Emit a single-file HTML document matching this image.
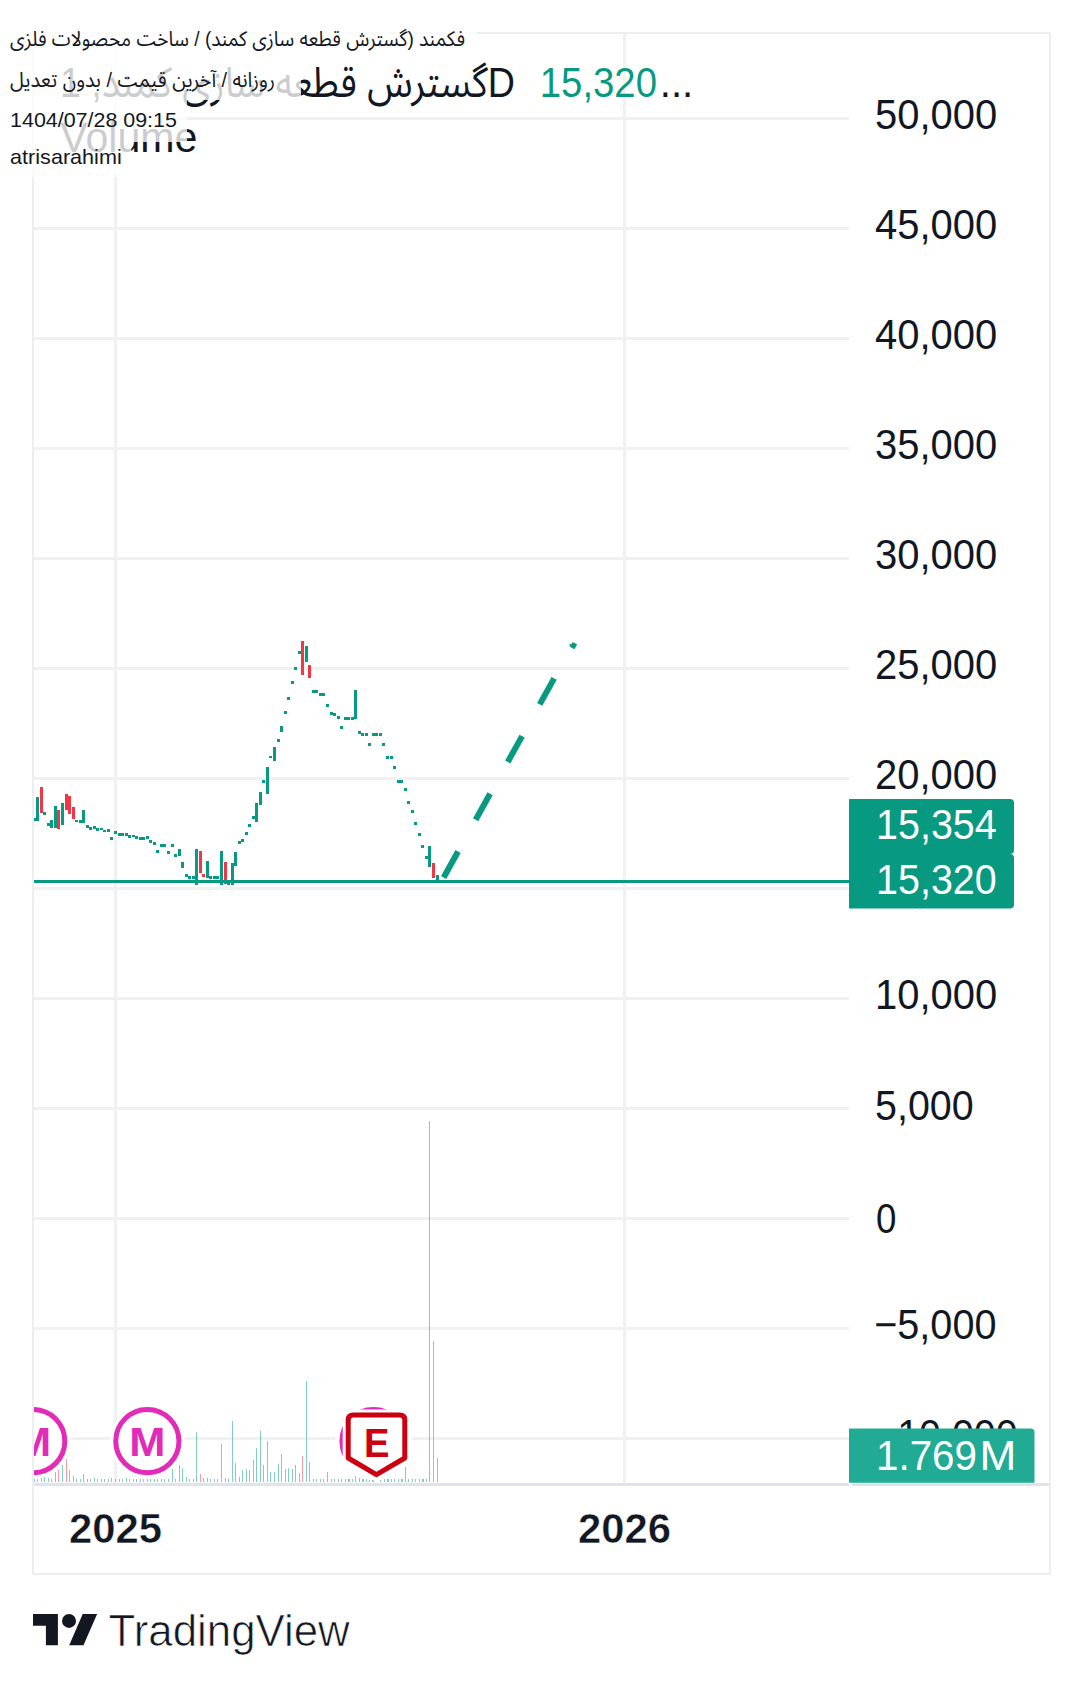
<!DOCTYPE html>
<html><head><meta charset="utf-8"><title>TradingView chart</title>
<style>
html,body{margin:0;padding:0;background:#fff;}
body{width:1083px;height:1688px;position:relative;overflow:hidden;}
.chart{position:absolute;left:0;top:0;}
</style></head><body>
<svg class="chart" width="1083" height="1688" viewBox="0 0 1083 1688"><defs><clipPath id="pane"><rect x="34" y="34" width="815" height="1449"/></clipPath></defs><g fill="#f0f2f2" shape-rendering="crispEdges"><rect x="34" y="117" width="815" height="3"/><rect x="34" y="227" width="815" height="3"/><rect x="34" y="337" width="815" height="3"/><rect x="34" y="447" width="815" height="3"/><rect x="34" y="557" width="815" height="3"/><rect x="34" y="667" width="815" height="3"/><rect x="34" y="777" width="815" height="3"/><rect x="34" y="887" width="815" height="3"/><rect x="34" y="997" width="815" height="3"/><rect x="34" y="1107" width="815" height="3"/><rect x="34" y="1217" width="815" height="3"/><rect x="34" y="1327" width="815" height="3"/><rect x="34" y="1437" width="815" height="3"/><rect x="114.0" y="34" width="3" height="1449"/><rect x="623.0" y="34" width="3" height="1449"/></g><g shape-rendering="crispEdges"><rect x="33.8" y="1479.1" width="1.2" height="2.6" fill="rgba(8,153,129,0.5)"/><rect x="36.8" y="1479.1" width="1.2" height="2.6" fill="rgba(8,153,129,0.5)"/><rect x="40.8" y="1478.0" width="1.2" height="3.7" fill="rgba(242,54,69,0.5)"/><rect x="43.9" y="1477.1" width="1.2" height="4.6" fill="rgba(8,153,129,0.5)"/><rect x="47.9" y="1478.0" width="1.2" height="3.7" fill="rgba(8,153,129,0.5)"/><rect x="50.8" y="1479.0" width="1.2" height="2.7" fill="rgba(8,153,129,0.5)"/><rect x="54.9" y="1471.7" width="1.2" height="10.0" fill="rgba(8,153,129,0.5)"/><rect x="57.8" y="1469.5" width="1.2" height="12.2" fill="rgba(242,54,69,0.5)"/><rect x="61.9" y="1465.1" width="1.2" height="16.6" fill="rgba(8,153,129,0.5)"/><rect x="65.8" y="1458.8" width="1.2" height="22.9" fill="rgba(242,54,69,0.5)"/><rect x="68.9" y="1470.3" width="1.2" height="11.4" fill="rgba(242,54,69,0.5)"/><rect x="72.8" y="1476.2" width="1.2" height="5.5" fill="rgba(242,54,69,0.5)"/><rect x="75.8" y="1479.0" width="1.2" height="2.7" fill="rgba(8,153,129,0.5)"/><rect x="79.8" y="1479.0" width="1.2" height="2.7" fill="rgba(8,153,129,0.5)"/><rect x="82.9" y="1474.2" width="1.2" height="7.5" fill="rgba(8,153,129,0.5)"/><rect x="86.9" y="1479.0" width="1.2" height="2.7" fill="rgba(8,153,129,0.5)"/><rect x="89.8" y="1479.0" width="1.2" height="2.7" fill="rgba(8,153,129,0.5)"/><rect x="93.8" y="1478.0" width="1.2" height="3.7" fill="rgba(8,153,129,0.5)"/><rect x="96.8" y="1479.0" width="1.2" height="2.7" fill="rgba(8,153,129,0.5)"/><rect x="100.8" y="1479.0" width="1.2" height="2.7" fill="rgba(8,153,129,0.5)"/><rect x="103.8" y="1479.0" width="1.2" height="2.7" fill="rgba(8,153,129,0.5)"/><rect x="107.7" y="1479.0" width="1.2" height="2.7" fill="rgba(8,153,129,0.5)"/><rect x="110.9" y="1478.0" width="1.2" height="3.7" fill="rgba(8,153,129,0.5)"/><rect x="114.9" y="1479.0" width="1.2" height="2.7" fill="rgba(8,153,129,0.5)"/><rect x="118.8" y="1479.0" width="1.2" height="2.7" fill="rgba(8,153,129,0.5)"/><rect x="121.9" y="1479.0" width="1.2" height="2.7" fill="rgba(8,153,129,0.5)"/><rect x="125.9" y="1478.0" width="1.2" height="3.7" fill="rgba(8,153,129,0.5)"/><rect x="128.8" y="1479.0" width="1.2" height="2.7" fill="rgba(8,153,129,0.5)"/><rect x="132.9" y="1479.0" width="1.2" height="2.7" fill="rgba(8,153,129,0.5)"/><rect x="135.9" y="1479.0" width="1.2" height="2.7" fill="rgba(8,153,129,0.5)"/><rect x="139.8" y="1479.0" width="1.2" height="2.7" fill="rgba(8,153,129,0.5)"/><rect x="142.9" y="1479.0" width="1.2" height="2.7" fill="rgba(8,153,129,0.5)"/><rect x="146.8" y="1479.0" width="1.2" height="2.7" fill="rgba(8,153,129,0.5)"/><rect x="149.9" y="1479.0" width="1.2" height="2.7" fill="rgba(8,153,129,0.5)"/><rect x="153.9" y="1479.0" width="1.2" height="2.7" fill="rgba(8,153,129,0.5)"/><rect x="156.9" y="1479.0" width="1.2" height="2.7" fill="rgba(8,153,129,0.5)"/><rect x="160.9" y="1479.0" width="1.2" height="2.7" fill="rgba(8,153,129,0.5)"/><rect x="163.9" y="1479.0" width="1.2" height="2.7" fill="rgba(8,153,129,0.5)"/><rect x="167.9" y="1479.0" width="1.2" height="2.7" fill="rgba(8,153,129,0.5)"/><rect x="171.8" y="1469.4" width="1.2" height="12.3" fill="rgba(8,153,129,0.5)"/><rect x="174.9" y="1479.0" width="1.2" height="2.7" fill="rgba(8,153,129,0.5)"/><rect x="178.8" y="1465.1" width="1.2" height="16.6" fill="rgba(8,153,129,0.5)"/><rect x="181.8" y="1468.0" width="1.2" height="13.7" fill="rgba(8,153,129,0.5)"/><rect x="185.9" y="1477.0" width="1.2" height="4.7" fill="rgba(8,153,129,0.5)"/><rect x="188.9" y="1479.0" width="1.2" height="2.7" fill="rgba(8,153,129,0.5)"/><rect x="192.8" y="1479.0" width="1.2" height="2.7" fill="rgba(8,153,129,0.5)"/><rect x="195.9" y="1432.1" width="1.2" height="49.6" fill="rgba(8,153,129,0.5)"/><rect x="199.9" y="1474.0" width="1.2" height="7.7" fill="rgba(242,54,69,0.5)"/><rect x="202.9" y="1477.9" width="1.2" height="3.8" fill="rgba(242,54,69,0.5)"/><rect x="206.9" y="1478.0" width="1.2" height="3.7" fill="rgba(8,153,129,0.5)"/><rect x="209.8" y="1479.0" width="1.2" height="2.7" fill="rgba(8,153,129,0.5)"/><rect x="213.8" y="1479.0" width="1.2" height="2.7" fill="rgba(8,153,129,0.5)"/><rect x="216.9" y="1479.0" width="1.2" height="2.7" fill="rgba(8,153,129,0.5)"/><rect x="220.9" y="1444.2" width="1.2" height="37.5" fill="rgba(8,153,129,0.5)"/><rect x="224.8" y="1478.0" width="1.2" height="3.7" fill="rgba(242,54,69,0.5)"/><rect x="227.8" y="1479.0" width="1.2" height="2.7" fill="rgba(8,153,129,0.5)"/><rect x="231.8" y="1421.2" width="1.2" height="60.5" fill="rgba(8,153,129,0.5)"/><rect x="234.8" y="1463.1" width="1.2" height="18.6" fill="rgba(8,153,129,0.5)"/><rect x="238.9" y="1477.0" width="1.2" height="4.7" fill="rgba(8,153,129,0.5)"/><rect x="241.8" y="1470.0" width="1.2" height="11.7" fill="rgba(8,153,129,0.5)"/><rect x="245.9" y="1469.0" width="1.2" height="12.7" fill="rgba(8,153,129,0.5)"/><rect x="248.8" y="1470.0" width="1.2" height="11.7" fill="rgba(8,153,129,0.5)"/><rect x="252.9" y="1460.2" width="1.2" height="21.5" fill="rgba(8,153,129,0.5)"/><rect x="255.8" y="1448.0" width="1.2" height="33.7" fill="rgba(8,153,129,0.5)"/><rect x="259.9" y="1431.2" width="1.2" height="50.5" fill="rgba(8,153,129,0.5)"/><rect x="262.9" y="1465.3" width="1.2" height="16.4" fill="rgba(8,153,129,0.5)"/><rect x="267.0" y="1441.3" width="1.2" height="40.4" fill="rgba(8,153,129,0.5)"/><rect x="269.9" y="1472.3" width="1.2" height="9.4" fill="rgba(8,153,129,0.5)"/><rect x="273.8" y="1472.3" width="1.2" height="9.4" fill="rgba(8,153,129,0.5)"/><rect x="277.9" y="1464.2" width="1.2" height="17.5" fill="rgba(8,153,129,0.5)"/><rect x="280.8" y="1454.2" width="1.2" height="27.5" fill="rgba(8,153,129,0.5)"/><rect x="284.8" y="1469.1" width="1.2" height="12.6" fill="rgba(8,153,129,0.5)"/><rect x="287.9" y="1468.2" width="1.2" height="13.5" fill="rgba(8,153,129,0.5)"/><rect x="291.8" y="1469.1" width="1.2" height="12.6" fill="rgba(8,153,129,0.5)"/><rect x="294.9" y="1465.3" width="1.2" height="16.4" fill="rgba(8,153,129,0.5)"/><rect x="298.9" y="1473.0" width="1.2" height="8.7" fill="rgba(8,153,129,0.5)"/><rect x="301.9" y="1456.0" width="1.2" height="25.7" fill="rgba(242,54,69,0.5)"/><rect x="305.9" y="1381.1" width="1.2" height="100.6" fill="rgba(8,153,129,0.5)"/><rect x="308.8" y="1462.2" width="1.2" height="19.5" fill="rgba(242,54,69,0.5)"/><rect x="312.9" y="1479.2" width="1.2" height="2.5" fill="rgba(8,153,129,0.5)"/><rect x="315.8" y="1479.0" width="1.2" height="2.7" fill="rgba(8,153,129,0.5)"/><rect x="319.8" y="1479.0" width="1.2" height="2.7" fill="rgba(8,153,129,0.5)"/><rect x="322.9" y="1479.0" width="1.2" height="2.7" fill="rgba(8,153,129,0.5)"/><rect x="326.9" y="1472.3" width="1.2" height="9.4" fill="rgba(8,153,129,0.5)"/><rect x="330.8" y="1479.0" width="1.2" height="2.7" fill="rgba(8,153,129,0.5)"/><rect x="333.8" y="1479.0" width="1.2" height="2.7" fill="rgba(8,153,129,0.5)"/><rect x="337.7" y="1479.0" width="1.2" height="2.7" fill="rgba(8,153,129,0.5)"/><rect x="341.1" y="1479.0" width="1.2" height="2.7" fill="rgba(8,153,129,0.5)"/><rect x="344.8" y="1479.0" width="1.2" height="2.7" fill="rgba(8,153,129,0.5)"/><rect x="348.3" y="1479.0" width="1.2" height="2.7" fill="rgba(8,153,129,0.5)"/><rect x="351.9" y="1479.0" width="1.2" height="2.7" fill="rgba(8,153,129,0.5)"/><rect x="354.9" y="1476.2" width="1.2" height="5.5" fill="rgba(8,153,129,0.5)"/><rect x="358.8" y="1478.0" width="1.2" height="3.7" fill="rgba(8,153,129,0.5)"/><rect x="362.3" y="1479.0" width="1.2" height="2.7" fill="rgba(8,153,129,0.5)"/><rect x="366.0" y="1479.0" width="1.2" height="2.7" fill="rgba(8,153,129,0.5)"/><rect x="368.9" y="1479.5" width="1.2" height="2.2" fill="rgba(8,153,129,0.5)"/><rect x="372.4" y="1479.0" width="1.2" height="2.7" fill="rgba(8,153,129,0.5)"/><rect x="375.9" y="1479.0" width="1.2" height="2.7" fill="rgba(8,153,129,0.5)"/><rect x="379.8" y="1479.0" width="1.2" height="2.7" fill="rgba(8,153,129,0.5)"/><rect x="383.8" y="1479.0" width="1.2" height="2.7" fill="rgba(8,153,129,0.5)"/><rect x="387.3" y="1479.0" width="1.2" height="2.7" fill="rgba(8,153,129,0.5)"/><rect x="390.8" y="1479.0" width="1.2" height="2.7" fill="rgba(8,153,129,0.5)"/><rect x="394.2" y="1479.0" width="1.2" height="2.7" fill="rgba(8,153,129,0.5)"/><rect x="397.9" y="1479.0" width="1.2" height="2.7" fill="rgba(8,153,129,0.5)"/><rect x="401.4" y="1479.0" width="1.2" height="2.7" fill="rgba(8,153,129,0.5)"/><rect x="405.0" y="1466.7" width="1.2" height="15.0" fill="rgba(8,153,129,0.5)"/><rect x="408.2" y="1479.0" width="1.2" height="2.7" fill="rgba(8,153,129,0.5)"/><rect x="411.7" y="1479.0" width="1.2" height="2.7" fill="rgba(8,153,129,0.5)"/><rect x="415.2" y="1479.0" width="1.2" height="2.7" fill="rgba(8,153,129,0.5)"/><rect x="418.6" y="1479.0" width="1.2" height="2.7" fill="rgba(8,153,129,0.5)"/><rect x="422.3" y="1479.0" width="1.2" height="2.7" fill="rgba(8,153,129,0.5)"/><rect x="426.0" y="1479.0" width="1.2" height="2.7" fill="rgba(8,153,129,0.5)"/><rect x="429.0" y="1120.8" width="1.2" height="360.9" fill="rgba(8,153,129,0.5)"/><rect x="432.6" y="1341.0" width="1.2" height="140.7" fill="rgba(242,54,69,0.5)"/><rect x="436.9" y="1457.9" width="1.2" height="23.8" fill="rgba(8,153,129,0.5)"/></g><g shape-rendering="crispEdges"><rect x="33" y="818" width="3" height="3" fill="#089981"/><rect x="36" y="797" width="3" height="24" fill="#089981"/><rect x="40" y="787" width="3" height="26" fill="#f23645"/><rect x="43" y="812" width="3" height="3" fill="#089981"/><rect x="47" y="823" width="3" height="3" fill="#089981"/><rect x="50" y="820" width="3" height="8" fill="#089981"/><rect x="54" y="806" width="3" height="22" fill="#089981"/><rect x="57" y="810" width="3" height="19" fill="#f23645"/><rect x="61" y="803" width="3" height="22" fill="#089981"/><rect x="65" y="794" width="3" height="16" fill="#f23645"/><rect x="68" y="796" width="3" height="18" fill="#f23645"/><rect x="72" y="807" width="3" height="12" fill="#f23645"/><rect x="75" y="820" width="3" height="2" fill="#089981"/><rect x="79" y="820" width="3" height="3" fill="#089981"/><rect x="82" y="810" width="3" height="13" fill="#089981"/><rect x="86" y="825" width="3" height="3" fill="#089981"/><rect x="89" y="827" width="3" height="3" fill="#089981"/><rect x="93" y="826" width="3" height="3" fill="#089981"/><rect x="96" y="828" width="3" height="3" fill="#089981"/><rect x="100" y="828" width="3" height="2" fill="#089981"/><rect x="103" y="830" width="3" height="2" fill="#089981"/><rect x="107" y="829" width="3" height="3" fill="#089981"/><rect x="110" y="837" width="3" height="3" fill="#089981"/><rect x="114" y="831" width="3" height="3" fill="#089981"/><rect x="118" y="833" width="3" height="3" fill="#089981"/><rect x="121" y="833" width="3" height="3" fill="#089981"/><rect x="125" y="833" width="3" height="3" fill="#089981"/><rect x="128" y="835" width="3" height="3" fill="#089981"/><rect x="132" y="835" width="3" height="2" fill="#089981"/><rect x="135" y="836" width="3" height="3" fill="#089981"/><rect x="139" y="837" width="3" height="3" fill="#089981"/><rect x="142" y="837" width="3" height="3" fill="#089981"/><rect x="146" y="836" width="3" height="3" fill="#089981"/><rect x="149" y="840" width="3" height="3" fill="#089981"/><rect x="153" y="842" width="3" height="3" fill="#089981"/><rect x="156" y="850" width="3" height="3" fill="#089981"/><rect x="160" y="844" width="3" height="3" fill="#089981"/><rect x="163" y="844" width="3" height="3" fill="#089981"/><rect x="167" y="851" width="3" height="3" fill="#089981"/><rect x="171" y="844" width="3" height="3" fill="#089981"/><rect x="174" y="854" width="3" height="3" fill="#089981"/><rect x="178" y="849" width="3" height="7" fill="#089981"/><rect x="181" y="862" width="3" height="6" fill="#089981"/><rect x="185" y="874" width="3" height="3" fill="#089981"/><rect x="188" y="876" width="3" height="3" fill="#089981"/><rect x="192" y="876" width="3" height="3" fill="#089981"/><rect x="195" y="849" width="3" height="36" fill="#089981"/><rect x="199" y="851" width="3" height="22" fill="#f23645"/><rect x="202" y="874" width="3" height="3" fill="#f23645"/><rect x="206" y="861" width="3" height="17" fill="#089981"/><rect x="209" y="876" width="3" height="3" fill="#089981"/><rect x="213" y="876" width="3" height="3" fill="#089981"/><rect x="216" y="876" width="3" height="3" fill="#089981"/><rect x="220" y="851" width="3" height="34" fill="#089981"/><rect x="224" y="862" width="3" height="22" fill="#f23645"/><rect x="227" y="881" width="3" height="4" fill="#089981"/><rect x="231" y="863" width="3" height="22" fill="#089981"/><rect x="234" y="852" width="3" height="14" fill="#089981"/><rect x="238" y="841" width="3" height="3" fill="#089981"/><rect x="241" y="839" width="3" height="3" fill="#089981"/><rect x="245" y="832" width="3" height="3" fill="#089981"/><rect x="248" y="824" width="3" height="3" fill="#089981"/><rect x="252" y="816" width="3" height="3" fill="#089981"/><rect x="255" y="803" width="3" height="19" fill="#089981"/><rect x="259" y="792" width="3" height="13" fill="#089981"/><rect x="262" y="780" width="3" height="3" fill="#089981"/><rect x="266" y="767" width="3" height="27" fill="#089981"/><rect x="269" y="756" width="3" height="2" fill="#089981"/><rect x="273" y="747" width="3" height="14" fill="#089981"/><rect x="277" y="739" width="3" height="3" fill="#089981"/><rect x="280" y="726" width="3" height="6" fill="#089981"/><rect x="284" y="711" width="3" height="3" fill="#089981"/><rect x="287" y="697" width="3" height="3" fill="#089981"/><rect x="291" y="681" width="3" height="3" fill="#089981"/><rect x="294" y="667" width="3" height="3" fill="#089981"/><rect x="298" y="651" width="3" height="3" fill="#089981"/><rect x="301" y="641" width="3" height="34" fill="#f23645"/><rect x="305" y="646" width="3" height="16" fill="#089981"/><rect x="308" y="665" width="3" height="13" fill="#f23645"/><rect x="312" y="690" width="3" height="3" fill="#089981"/><rect x="315" y="690" width="3" height="3" fill="#089981"/><rect x="319" y="693" width="3" height="3" fill="#089981"/><rect x="322" y="693" width="3" height="3" fill="#089981"/><rect x="326" y="704" width="3" height="3" fill="#089981"/><rect x="330" y="712" width="3" height="3" fill="#089981"/><rect x="333" y="713" width="3" height="3" fill="#089981"/><rect x="337" y="716" width="3" height="3" fill="#089981"/><rect x="340" y="726" width="3" height="3" fill="#089981"/><rect x="344" y="717" width="3" height="3" fill="#089981"/><rect x="347" y="717" width="3" height="3" fill="#089981"/><rect x="351" y="717" width="3" height="3" fill="#089981"/><rect x="354" y="690" width="3" height="29" fill="#089981"/><rect x="358" y="731" width="3" height="3" fill="#089981"/><rect x="361" y="733" width="3" height="3" fill="#089981"/><rect x="365" y="733" width="3" height="3" fill="#089981"/><rect x="368" y="743" width="3" height="3" fill="#089981"/><rect x="372" y="733" width="3" height="3" fill="#089981"/><rect x="375" y="733" width="3" height="3" fill="#089981"/><rect x="379" y="733" width="3" height="3" fill="#089981"/><rect x="382" y="743" width="3" height="3" fill="#089981"/><rect x="386" y="756" width="3" height="3" fill="#089981"/><rect x="390" y="756" width="3" height="3" fill="#089981"/><rect x="393" y="766" width="3" height="3" fill="#089981"/><rect x="397" y="780" width="3" height="3" fill="#089981"/><rect x="400" y="780" width="3" height="3" fill="#089981"/><rect x="404" y="788" width="3" height="3" fill="#089981"/><rect x="407" y="801" width="3" height="3" fill="#089981"/><rect x="411" y="810" width="3" height="3" fill="#089981"/><rect x="414" y="822" width="3" height="3" fill="#089981"/><rect x="418" y="833" width="3" height="3" fill="#089981"/><rect x="421" y="845" width="3" height="3" fill="#089981"/><rect x="425" y="856" width="3" height="3" fill="#089981"/><rect x="428" y="846" width="3" height="21" fill="#089981"/><rect x="432" y="863" width="3" height="15" fill="#f23645"/><rect x="436" y="875" width="3" height="7" fill="#089981"/></g><rect x="34" y="880" width="815" height="3" fill="#089981"/><path d="M441.4 881.5 L572.5 645.3" stroke="#089981" stroke-width="6" fill="none" stroke-dasharray="29.7 36.3" stroke-dashoffset="-4.6"/><path d="M571.3 644.3 L575.8 646.9" stroke="#089981" stroke-width="5.5" fill="none"/><g clip-path="url(#pane)"><circle cx="33.2" cy="1441.2" r="37.3" fill="#fff"/><circle cx="33.2" cy="1441.2" r="31.6" fill="#fff" stroke="#e22bb8" stroke-width="5"/><text x="15.10" y="1455.9" textLength="36.2" lengthAdjust="spacingAndGlyphs" font-family="Liberation Sans, sans-serif" font-weight="bold" font-size="40" fill="#e22bb8">M</text><circle cx="147.35" cy="1441.2" r="37.3" fill="#fff"/><circle cx="147.35" cy="1441.2" r="31.6" fill="#fff" stroke="#e22bb8" stroke-width="5"/><text x="129.25" y="1455.9" textLength="36.2" lengthAdjust="spacingAndGlyphs" font-family="Liberation Sans, sans-serif" font-weight="bold" font-size="40" fill="#e22bb8">M</text><circle cx="373.5" cy="1441.2" r="38.5" fill="#fff"/><circle cx="373.5" cy="1441.2" r="31.6" fill="#fff" stroke="#e22bb8" stroke-width="5"/><text x="355.40" y="1455.9" textLength="36.2" lengthAdjust="spacingAndGlyphs" font-family="Liberation Sans, sans-serif" font-weight="bold" font-size="40" fill="#e22bb8">M</text><path d="M342.7 1409.5 H410.3 V1464 L376.4 1482 L342.7 1464 Z" fill="#fff"/><path d="M348.2 1420 Q348.2 1415 353.2 1415 H399.8 Q404.8 1415 404.8 1420 V1458 L376.4 1474.6 L348.2 1458 Z" fill="#fff" stroke="#cc0010" stroke-width="5" stroke-linejoin="round"/><text x="376.85" y="1457.1" text-anchor="middle" textLength="25.5" lengthAdjust="spacingAndGlyphs" font-family="Liberation Sans, sans-serif" font-weight="bold" font-size="41.5" fill="#cc0010">E</text></g><g fill="#eceef2" shape-rendering="crispEdges"><rect x="32" y="32" width="1019" height="2"/><rect x="32" y="32" width="2" height="1543"/><rect x="1049" y="32" width="2" height="1543"/><rect x="32" y="1573" width="1019" height="2"/></g><g fill="#e0e3eb" shape-rendering="crispEdges"><rect x="34" y="1483" width="815" height="3"/><rect x="852" y="1483" width="197" height="3"/></g><text class="m" x="875.0" y="129.3" font-family="Liberation Sans, sans-serif" font-size="42.2" fill="#131722" textLength="122.3" lengthAdjust="spacingAndGlyphs" >50,000</text><text class="m" x="875.0" y="239.3" font-family="Liberation Sans, sans-serif" font-size="42.2" fill="#131722" textLength="122.3" lengthAdjust="spacingAndGlyphs" >45,000</text><text class="m" x="875.0" y="349.3" font-family="Liberation Sans, sans-serif" font-size="42.2" fill="#131722" textLength="122.3" lengthAdjust="spacingAndGlyphs" >40,000</text><text class="m" x="875.0" y="459.3" font-family="Liberation Sans, sans-serif" font-size="42.2" fill="#131722" textLength="122.3" lengthAdjust="spacingAndGlyphs" >35,000</text><text class="m" x="875.0" y="569.3" font-family="Liberation Sans, sans-serif" font-size="42.2" fill="#131722" textLength="122.3" lengthAdjust="spacingAndGlyphs" >30,000</text><text class="m" x="875.0" y="679.3" font-family="Liberation Sans, sans-serif" font-size="42.2" fill="#131722" textLength="122.3" lengthAdjust="spacingAndGlyphs" >25,000</text><text class="m" x="875.0" y="789.3" font-family="Liberation Sans, sans-serif" font-size="42.2" fill="#131722" textLength="122.3" lengthAdjust="spacingAndGlyphs" >20,000</text><text class="m" x="875.0" y="1009.3" font-family="Liberation Sans, sans-serif" font-size="42.2" fill="#131722" textLength="122.3" lengthAdjust="spacingAndGlyphs" >10,000</text><text class="m" x="875.0" y="1120.1" font-family="Liberation Sans, sans-serif" font-size="42.2" fill="#131722" textLength="98.7" lengthAdjust="spacingAndGlyphs" >5,000</text><text class="m" x="876.0" y="1232.6" font-family="Liberation Sans, sans-serif" font-size="42.2" fill="#131722" textLength="20.4" lengthAdjust="spacingAndGlyphs" >0</text><text class="m" x="874.2" y="1339.3" font-family="Liberation Sans, sans-serif" font-size="42.2" fill="#131722" textLength="122.3" lengthAdjust="spacingAndGlyphs" >−5,000</text><text class="m" x="874.2" y="1449.3" font-family="Liberation Sans, sans-serif" font-size="42.2" fill="#131722" textLength="143.5" lengthAdjust="spacingAndGlyphs" >−10,000</text><path d="M849 799 H1010 Q1014 799 1014 803 V850 Q1014 854 1010 854 H849 Z" fill="#089981"/><path d="M849 854 H1010 Q1014 854 1014 858 V904.5 Q1014 908.5 1010 908.5 H849 Z" fill="#089981"/><path d="M849 1428.5 H1030.5 Q1034.5 1428.5 1034.5 1432.5 V1482.8 H849 Z" fill="#22ab94"/><text class="m" x="876.1" y="839.0" font-family="Liberation Sans, sans-serif" font-size="42.2" fill="#fff" textLength="120.6" lengthAdjust="spacingAndGlyphs" >15,354</text><text class="m" x="876.1" y="893.9" font-family="Liberation Sans, sans-serif" font-size="42.2" fill="#fff" textLength="120.6" lengthAdjust="spacingAndGlyphs" >15,320</text><text class="m" x="876" y="1469.5" font-family="Liberation Sans, sans-serif" font-size="42.2" fill="#fff" textLength="101" lengthAdjust="spacingAndGlyphs" >1.769</text><text class="m" x="979.4" y="1469.5" font-family="Liberation Sans, sans-serif" font-size="42.2" fill="#fff" textLength="36.8" lengthAdjust="spacingAndGlyphs" >M</text><text class="m" x="69" y="1542.8" font-family="Liberation Sans, sans-serif" font-size="43.4" fill="#131722" textLength="93.0" lengthAdjust="spacingAndGlyphs" font-weight="bold" stroke="#fff" stroke-width="0.5">2025</text><text class="m" x="578.1" y="1543.0" font-family="Liberation Sans, sans-serif" font-size="43.4" fill="#131722" textLength="93.0" lengthAdjust="spacingAndGlyphs" font-weight="bold" stroke="#fff" stroke-width="0.5">2026</text><g fill="#131722"><path d="M33 1614 H57.9 V1645.3 H45.9 V1625.8 H33 Z"/><circle cx="69" cy="1620.9" r="7"/><path d="M82.7 1614 H97.1 L83.5 1645.3 H69.2 Z"/></g><text class="m" x="108.6" y="1645.5" font-family="Liberation Sans, sans-serif" font-size="43.6" fill="#131722" textLength="241.1" lengthAdjust="spacingAndGlyphs" stroke="#fff" stroke-width="0.7">TradingView</text><text class="m" x="60" y="96.9" font-family="Liberation Sans, Noto Sans Arabic, DejaVu Sans, sans-serif" font-size="42.2" fill="#131722" textLength="455" lengthAdjust="spacingAndGlyphs">گسترش قطعه سازی کمند, 1D</text><text class="m" x="539.8" y="96.9" font-family="Liberation Sans, sans-serif" font-size="42.2" fill="#089981" textLength="117.2" lengthAdjust="spacingAndGlyphs" >15,320</text><text class="m" x="659.8" y="96.9" font-family="Liberation Sans, sans-serif" font-size="42.2" fill="#131722" textLength="33.5" lengthAdjust="spacingAndGlyphs" >...</text><text class="m" x="60.3" y="151.5" font-family="Liberation Sans, sans-serif" font-size="42.2" fill="#131722" textLength="137.1" lengthAdjust="spacingAndGlyphs" >Volume</text><g fill="#fff" fill-opacity="0.78"><rect x="0" y="17" width="477" height="42"/><rect x="0" y="59" width="301" height="41"/><rect x="0" y="100" width="187" height="42"/><rect x="0" y="142" width="131.4" height="35"/></g><text class="m" x="10.1" y="45.8" font-family="Liberation Sans, Noto Sans Arabic, DejaVu Sans, sans-serif" font-size="21" fill="#131722" textLength="455" lengthAdjust="spacingAndGlyphs">فکمند (گسترش قطعه سازی کمند) / ساخت محصولات فلزی</text><text class="m" x="10.1" y="87.3" font-family="Liberation Sans, Noto Sans Arabic, DejaVu Sans, sans-serif" font-size="21" fill="#131722" textLength="265" lengthAdjust="spacingAndGlyphs">روزانه / آخرین قیمت / بدون تعدیل</text><text class="m" x="10.1" y="127.4" font-family="Liberation Sans, sans-serif" font-size="21" fill="#131722" textLength="166.8" lengthAdjust="spacingAndGlyphs" >1404/07/28 09:15</text><text class="m" x="10.1" y="163.5" font-family="Liberation Sans, sans-serif" font-size="21" fill="#131722" textLength="111.6" lengthAdjust="spacingAndGlyphs" >atrisarahimi</text></svg>
</body></html>
